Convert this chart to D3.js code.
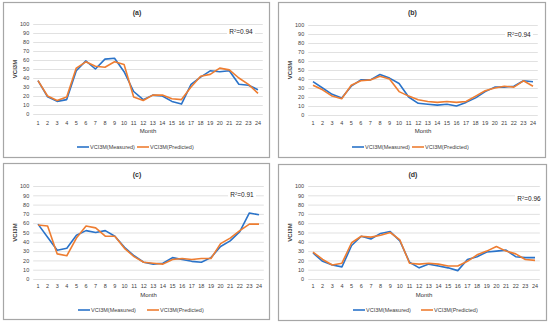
<!DOCTYPE html>
<html>
<head>
<meta charset="utf-8">
<script src="https://cdn.jsdelivr.net/npm/d3@7"></script>
<style>
  body { margin: 0; background: #fff; }
  svg { display: block; font-family: "Liberation Sans", Arial, sans-serif; }
</style>
</head>
<body>
<svg id="chart" width="550" height="323"></svg>
<script>
// months on the x axis
var months = d3.range(1, 25);
var yTicks = [0, 10, 20, 30, 40, 50, 60, 70, 80, 90, 100];

var titles = ["(a)", "(b)", "(c)", "(d)"];
var r2Labels = ["0.94", "0.94", "0.91", "0.96"];

// VCI3M values
var measuredA = [37, 19, 14, 16, 48, 59, 50, 61, 62, 47, 25, 16, 21, 20, 14, 11, 33, 41, 48, 47, 48, 33, 32, 27];
var predictedA = [37, 20, 15, 19, 51, 58, 53, 52, 58, 55, 19, 15, 21, 21, 17, 16, 30, 42, 44, 51, 49, 40, 33, 23];

var measuredB = [37, 30, 23, 19, 32, 39, 39, 45, 41, 35, 20, 13, 12, 11, 12, 10, 14, 19, 26, 31, 31, 32, 38, 37];
var predictedB = [33, 28, 21, 18, 33, 38, 39, 43, 40, 26, 21, 17, 15, 14, 15, 14, 15, 21, 27, 30, 32, 31, 38, 32];

var measuredC = [59, 45, 31, 33, 47, 52, 50, 52, 46, 34, 25, 18, 16, 17, 23, 21, 19, 18, 23, 35, 41, 51, 71, 69];
var predictedC = [58, 57, 27, 25, 44, 57, 55, 46, 46, 33, 24, 18, 17, 16, 21, 22, 21, 22, 22, 38, 44, 52, 59, 59];

var measuredD = [28, 19, 15, 13, 36, 46, 43, 49, 51, 41, 18, 12, 16, 14, 12, 9, 21, 24, 29, 30, 31, 24, 23, 23];
var predictedD = [29, 21, 15, 17, 39, 46, 45, 47, 50, 42, 17, 16, 17, 16, 14, 14, 19, 26, 30, 35, 30, 27, 21, 20];

var measured = [measuredA, measuredB, measuredC, measuredD];
var predicted = [predictedA, predictedB, predictedC, predictedD];

var blue = "#2a73c9", orange = "#ee7d31";

// layout of each panel (pixels)
var panels = [
  {box: [3, 2, 266, 155], x1: 38, x24: 258, y0: 114, y100: 24, titleY: 13, tickY: 123, monthY: 131, legY: 147, legX: [77, 137], r2: [241, 32], ylabX: 15},
  {box: [278, 2, 267, 155], x1: 313, x24: 533, y0: 115, y100: 25, titleY: 13, tickY: 123, monthY: 131, legY: 147, legX: [352, 412], r2: [519, 35], ylabX: 290},
  {box: [3, 163, 266, 156], x1: 38, x24: 259, y0: 279, y100: 186, titleY: 175, tickY: 286, monthY: 295, legY: 310, legX: [78, 147], r2: [242, 195], ylabX: 15},
  {box: [278, 164, 268, 156], x1: 313, x24: 535, y0: 279, y100: 186, titleY: 175, tickY: 286, monthY: 295, legY: 310, legX: [353, 421], r2: [529, 199], ylabX: 290}
];

var svg = d3.select("#chart");

panels.forEach(function(p, i) {
  var g = svg.append("g");
  var step = (p.x24 - p.x1) / 23;

  g.append("rect")
    .attr("x", p.box[0] + 0.5).attr("y", p.box[1] + 0.5)
    .attr("width", p.box[2]).attr("height", p.box[3])
    .attr("fill", "#fff").attr("stroke", "#a6a6a6").attr("stroke-width", 1.2);

  var x = d3.scaleBand().domain(months).range([p.x1 - step / 2, p.x24 + step / 2]).padding(0);
  var y = d3.scaleLinear().domain([0, 100]).range([p.y0, p.y100]);
  var left = p.x1 - step / 2, right = p.x24 + step / 2;

  // gridlines + y labels
  var ya = g.append("g").attr("transform", "translate(" + left + ",0)")
    .call(d3.axisLeft(y).tickValues(yTicks).tickSize(-(right - left)).tickPadding(4));
  ya.select(".domain").remove();
  ya.selectAll(".tick line").attr("stroke", "#d9d9d9").attr("stroke-width", 0.8);
  ya.selectAll(".tick text").attr("fill", "#404040").attr("font-size", 5.5);

  // x labels
  var xa = g.append("g").attr("transform", "translate(0," + (p.tickY - 3) + ")")
    .call(d3.axisBottom(x).tickSize(0).tickPadding(0));
  xa.select(".domain").remove();
  xa.selectAll(".tick text").attr("fill", "#404040").attr("font-size", 5.5).attr("dy", "0.35em").attr("y", 3);

  // R2 label with white box
  var r2 = g.append("g").attr("transform", "translate(" + p.r2[0] + "," + p.r2[1] + ")");
  r2.append("rect").attr("x", -14).attr("y", -5).attr("width", 28).attr("height", 10).attr("fill", "#fff");
  var rt = r2.append("text").attr("text-anchor", "middle").attr("y", 2.3)
    .attr("font-size", 6.5).attr("fill", "#222");
  rt.append("tspan").text("R");
  rt.append("tspan").attr("font-size", 4).attr("dy", -2.5).text("2");
  rt.append("tspan").attr("dy", 2.5).text("=" + r2Labels[i]);

  var line = d3.line()
    .x(function(d, k) { return x(months[k]) + x.bandwidth() / 2; })
    .y(function(d) { return y(d); });

  g.append("path").datum(measured[i]).attr("d", line)
    .attr("fill", "none").attr("stroke", blue).attr("stroke-width", 1.6).attr("stroke-linejoin", "round");
  g.append("path").datum(predicted[i]).attr("d", line)
    .attr("fill", "none").attr("stroke", orange).attr("stroke-width", 1.6).attr("stroke-linejoin", "round");

  // title and axis titles
  g.append("text").attr("x", p.box[0] + p.box[2] / 2 + 1).attr("y", p.titleY).attr("dy", "0.35em")
    .attr("text-anchor", "middle").attr("font-size", 7).attr("font-weight", "bold").attr("fill", "#333")
    .text(titles[i]);
  g.append("text").attr("x", (left + right) / 2).attr("y", p.monthY).attr("dy", "0.35em")
    .attr("text-anchor", "middle").attr("font-size", 6).attr("fill", "#333")
    .text("Month");
  g.append("text").attr("transform", "translate(" + p.ylabX + "," + ((p.y0 + p.y100) / 2) + ") rotate(-90)")
    .attr("dy", "0.35em").attr("text-anchor", "middle").attr("font-size", 6).attr("font-weight", "bold")
    .attr("fill", "#404040").text("VCI3M");

  // legend
  var names = ["VCI3M(Measured)", "VCI3M(Predicted)"];
  [blue, orange].forEach(function(c, k) {
    var lx = p.legX[k];
    g.append("line").attr("x1", lx).attr("x2", lx + 12).attr("y1", p.legY).attr("y2", p.legY)
      .attr("stroke", c).attr("stroke-width", 1.6);
    g.append("text").attr("x", lx + 13).attr("y", p.legY).attr("dy", "0.35em")
      .attr("font-size", 5.5).attr("fill", "#404040").text(names[k]);
  });
});
</script>
</body>
</html>
